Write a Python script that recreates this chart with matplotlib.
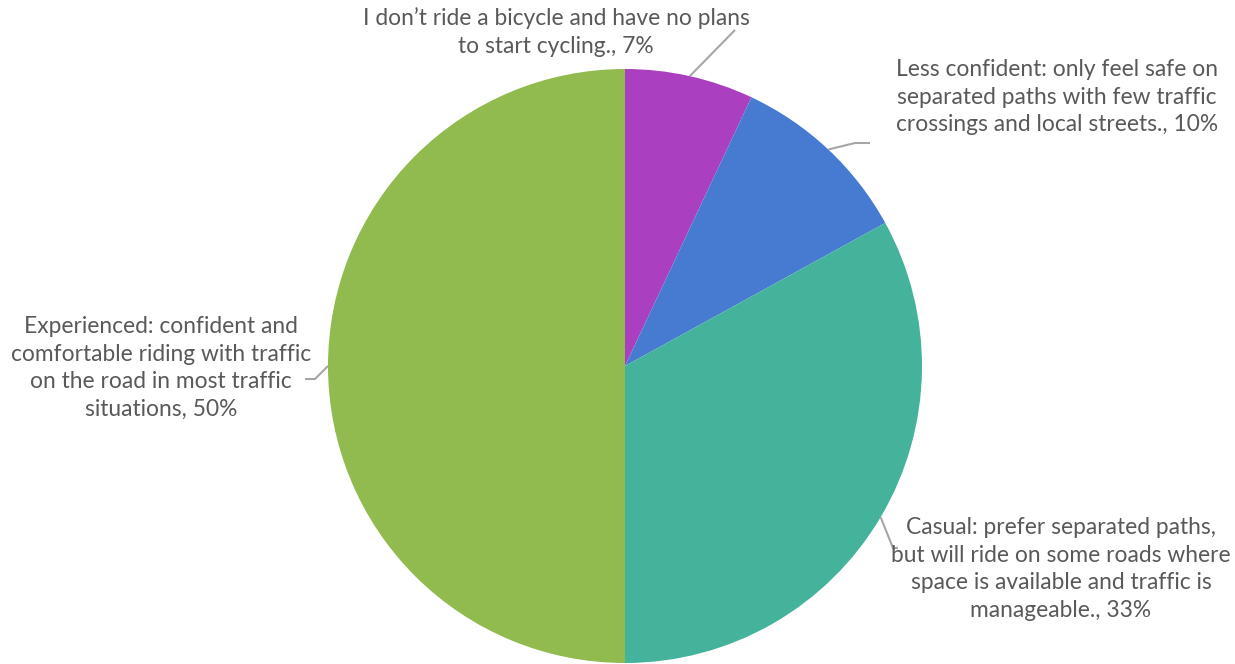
import numpy as np
import matplotlib.pyplot as plt

# data
labels = [
    "I don\u2019t ride a bicycle and have no plans\nto start cycling., 7%",
    "Less confident: only feel safe on\nseparated paths with few traffic\ncrossings and local streets., 10%",
    "Casual: prefer separated paths,\nbut will ride on some roads where\nspace is available and traffic is\nmanageable., 33%",
    "Experienced: confident and\ncomfortable riding with traffic\non the road in most traffic\nsituations, 50%",
]
values = [7, 10, 33, 50]
colors = ['#AA40C0', '#477BD1', '#45B39B', '#91BA4F']

W, H = 1235, 664
cx, cy, r = 625, H - 366, 297

fig = plt.figure(figsize=(W / 100, H / 100), dpi=100)
ax = fig.add_axes([0, 0, 1, 1])
ax.set_xlim(0, W)
ax.set_ylim(0, H)
ax.set_aspect('equal')
ax.axis('off')

ax.pie(values, colors=colors, startangle=90, counterclock=False,
       center=(cx, cy), radius=r, wedgeprops=dict(linewidth=0))
ax.set_xlim(0, W)
ax.set_ylim(0, H)

# label layout: text centre and leader points after the pie edge
text_pos = [(556, H - 32), (1057, H - 97), (1061, H - 569), (161, H - 368)]
leaders = [
    [(735, H - 30)],
    [(855, H - 143), (870, H - 143)],
    [(893, H - 548), (898, H - 548)],
    [(315, H - 379), (305, H - 379)],
]

total = sum(values)
cum = 0
for i, v in enumerate(values):
    mid = (cum + v / 2) / total * 360
    cum += v
    ang = np.deg2rad(90 - mid)
    ex, ey = cx + r * np.cos(ang), cy + r * np.sin(ang)
    pts = [(ex, ey)] + leaders[i]
    xs, ys = zip(*pts)
    ax.plot(xs, ys, color='#A6A6A6', lw=1.5, solid_capstyle='butt')
    ax.text(text_pos[i][0], text_pos[i][1], labels[i], ha='center', va='center',
            fontsize=16.4, family='Lato', color='#595959', linespacing=1.4)

fig.savefig('out.png', dpi=100)
